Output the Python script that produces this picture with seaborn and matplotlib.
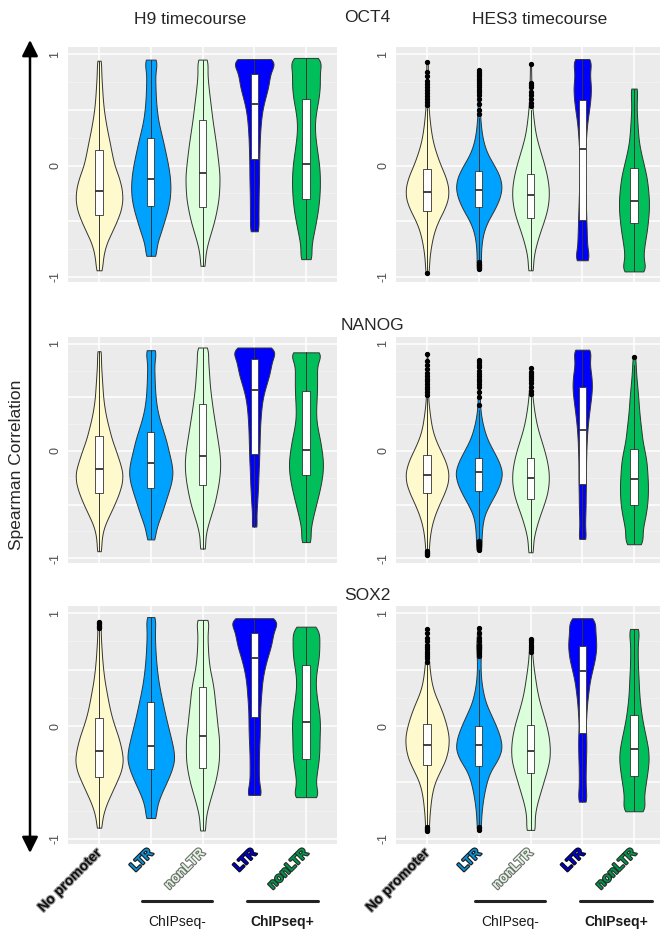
import numpy as np
import pandas as pd
import matplotlib
matplotlib.use('Agg')
import matplotlib.pyplot as plt
import matplotlib.patheffects as pe
from matplotlib.lines import Line2D
from matplotlib.patches import FancyArrowPatch
import seaborn as sns

sns.set_style('white')
plt.rcParams['font.family'] = ['Liberation Sans', 'DejaVu Sans']

GROUPS = ['none', 'LTR-', 'nonLTR-', 'LTR+', 'nonLTR+']
TICK_LABELS = ['No promoter', 'LTR', 'nonLTR', 'LTR', 'nonLTR']
FILLS = ['#FFFACD', '#00A2FF', '#DAFFDA', '#0000FF', '#00BE5A']
LABEL_COLORS = ['#111111', '#0A90D4', '#E2F8E2', '#0000D8', '#00964A']
LABEL_EDGES = ['#9A9A9A', '#1A1A1A', '#6E6E6E', '#0A0A0A', '#2A2A2A']

# density (relative half-width) at these correlation levels
LEVELS = [-0.9, -0.8, -0.7, -0.6, -0.5, -0.4, -0.3, -0.2, -0.1, 0.0,
          0.1, 0.2, 0.3, 0.4, 0.5, 0.6, 0.7, 0.8, 0.9]

# ---- H9 / OCT4
H9_OCT4_W = [
    [8, 13, 21, 37, 52, 65, 70, 67, 58, 45, 38, 32, 25, 19, 14, 11, 9, 7, 5],
    [0, 9, 18, 30, 40, 50, 57, 59, 57, 52, 45, 38, 30, 22, 18, 15, 14, 13, 13],
    [4, 8, 15, 25, 35, 42, 48, 50, 51, 48, 44, 40, 35, 30, 26, 22, 18, 15, 12],
    [0, 0, 0, 0, 15, 16, 16, 17, 18, 18, 19, 20, 22, 25, 30, 40, 52, 58, 58],
    [0, 12, 18, 25, 32, 38, 42, 44, 44, 42, 37, 32, 28, 28, 33, 40, 44, 44, 40],
]
# (min, weight at min, max, weight at max)
H9_OCT4_ENDS = [(-0.94, 4, 0.94, 3), (-0.81, 8, 0.95, 13), (-0.90, 3, 0.95, 10),
                (-0.59, 15, 0.955, 57), (-0.84, 12, 0.965, 35)]
# (q1, median, q3, lower whisker, upper whisker)
H9_OCT4_BOX = [(-0.44, -0.23, 0.135, -0.94, 0.94), (-0.36, -0.125, 0.25, -0.81, 0.95),
               (-0.375, -0.07, 0.405, -0.90, 0.95), (0.06, 0.55, 0.825, -0.59, 0.955),
               (-0.30, 0.01, 0.60, -0.84, 0.965)]
H9_OCT4_FLIERS = [[], [], [], [], []]

# ---- HES3 / OCT4
HES3_OCT4_W = [
    [5, 8, 13, 20, 32, 50, 63, 64, 55, 40, 28, 18, 12, 8, 5, 3, 3, 2, 2],
    [5, 6, 8, 13, 25, 45, 60, 68, 62, 45, 25, 14, 8, 5, 3, 4, 5, 5, 0],
    [5, 10, 18, 28, 40, 50, 55, 55, 50, 42, 32, 22, 14, 10, 6, 4, 3, 2, 1],
    [0, 14, 14, 13, 12, 11, 10, 9, 8, 8, 8, 10, 12, 15, 20, 24, 26, 22, 20],
    [25, 28, 32, 38, 42, 45, 45, 42, 38, 30, 22, 15, 12, 10, 8, 8, 0, 0, 0],
]
HES3_OCT4_ENDS = [(-0.96, 3, 0.93, 1), (-0.93, 3, 0.86, 3), (-0.94, 5, 0.91, 1),
                  (-0.85, 14, 0.955, 18), (-0.95, 25, 0.69, 10)]
HES3_OCT4_BOX = [(-0.41, -0.235, -0.035, -0.94, 0.52), (-0.37, -0.22, -0.045, -0.85, 0.43),
                 (-0.47, -0.265, -0.075, -0.94, 0.50), (-0.49, 0.15, 0.59, -0.85, 0.955),
                 (-0.52, -0.32, -0.025, -0.95, 0.69)]
HES3_OCT4_FLIERS = [
    [-0.96, 0.54, 0.57, 0.60, 0.62, 0.65, 0.68, 0.70, 0.73, 0.76, 0.80, 0.84, 0.93],
    [-0.93, -0.92, -0.91, -0.90, -0.89, -0.88, -0.87, 0.46, 0.50, 0.55, 0.60, 0.63,
     0.66, 0.68, 0.70, 0.72, 0.74, 0.76, 0.78, 0.80, 0.82, 0.84, 0.86],
    [0.53, 0.56, 0.60, 0.63, 0.66, 0.70, 0.72, 0.74, 0.91],
    [], [],
]

# ---- H9 / NANOG
H9_NANOG_W = [
    [5, 8, 15, 30, 45, 58, 68, 70, 60, 50, 38, 30, 22, 16, 12, 10, 8, 6, 4],
    [0, 8, 18, 30, 40, 50, 60, 65, 60, 52, 45, 35, 25, 18, 14, 12, 11, 10, 10],
    [5, 8, 15, 25, 35, 42, 48, 52, 53, 50, 45, 40, 35, 30, 26, 22, 20, 18, 14],
    [0, 0, 5, 7, 10, 12, 14, 15, 17, 18, 19, 20, 22, 25, 30, 40, 52, 60, 60],
    [0, 10, 15, 22, 30, 38, 45, 50, 51, 47, 42, 35, 30, 30, 32, 33, 33, 32, 30],
]
H9_NANOG_ENDS = [(-0.935, 3, 0.93, 3), (-0.825, 6, 0.94, 10), (-0.91, 4, 0.965, 12),
                 (-0.705, 5, 0.965, 57), (-0.85, 10, 0.92, 27)]
H9_NANOG_BOX = [(-0.39, -0.17, 0.14, -0.935, 0.93), (-0.35, -0.11, 0.18, -0.825, 0.94),
                (-0.32, -0.05, 0.435, -0.91, 0.965), (-0.03, 0.565, 0.86, -0.705, 0.965),
                (-0.22, 0.01, 0.555, -0.85, 0.92)]
H9_NANOG_FLIERS = [[], [], [], [], []]

# ---- HES3 / NANOG
HES3_NANOG_W = [
    [5, 8, 13, 22, 35, 50, 62, 64, 55, 40, 25, 15, 10, 6, 3, 3, 3, 2, 0],
    [5, 8, 10, 15, 30, 48, 62, 69, 58, 42, 25, 15, 8, 4, 3, 3, 3, 3, 0],
    [5, 10, 18, 28, 40, 50, 55, 55, 50, 42, 32, 22, 15, 10, 6, 4, 3, 0, 0],
    [0, 7, 8, 9, 10, 10, 11, 11, 11, 12, 13, 15, 18, 22, 26, 29, 27, 22, 18],
    [0, 22, 28, 35, 40, 42, 42, 40, 38, 32, 25, 22, 18, 15, 13, 10, 7, 5, 0],
]
HES3_NANOG_ENDS = [(-0.97, 3, 0.90, 1), (-0.92, 4, 0.85, 2), (-0.945, 5, 0.77, 2),
                   (-0.82, 6, 0.945, 17), (-0.87, 20, 0.88, 3)]
HES3_NANOG_BOX = [(-0.39, -0.22, -0.035, -0.91, 0.49), (-0.37, -0.20, -0.065, -0.82, 0.38),
                  (-0.45, -0.25, -0.065, -0.945, 0.50), (-0.31, 0.20, 0.60, -0.82, 0.945),
                  (-0.50, -0.26, 0.02, -0.87, 0.80)]
HES3_NANOG_FLIERS = [
    [-0.97, -0.96, -0.95, -0.94, -0.93, 0.52, 0.55, 0.58, 0.60, 0.62, 0.65, 0.67,
     0.70, 0.73, 0.76, 0.80, 0.84, 0.90],
    [-0.92, -0.91, -0.90, -0.89, -0.88, -0.87, -0.86, -0.84, 0.43, 0.50, 0.55, 0.60,
     0.62, 0.65, 0.67, 0.70, 0.72, 0.75, 0.78, 0.80, 0.83, 0.85],
    [0.53, 0.56, 0.60, 0.63, 0.66, 0.68, 0.70, 0.72, 0.74, 0.77],
    [], [0.88],
]

# ---- H9 / SOX2
H9_SOX2_W = [
    [4, 10, 20, 35, 50, 65, 71, 65, 57, 45, 35, 28, 22, 16, 12, 9, 7, 5, 3],
    [0, 9, 18, 30, 46, 60, 70, 66, 58, 50, 42, 35, 28, 22, 18, 15, 13, 12, 11],
    [5, 10, 18, 28, 38, 45, 50, 50, 50, 45, 42, 38, 35, 30, 22, 18, 16, 15, 13],
    [0, 0, 0, 15, 16, 16, 16, 17, 19, 20, 20, 22, 25, 28, 35, 45, 58, 66, 62],
    [0, 0, 0, 24, 28, 33, 38, 40, 40, 42, 40, 35, 30, 28, 32, 38, 40, 38, 0],
]
H9_SOX2_ENDS = [(-0.90, 3, 0.92, 3), (-0.815, 8, 0.965, 10), (-0.925, 5, 0.94, 12),
                (-0.61, 15, 0.955, 60), (-0.63, 23, 0.88, 27)]
H9_SOX2_BOX = [(-0.45, -0.225, 0.075, -0.90, 0.86), (-0.38, -0.175, 0.21, -0.815, 0.965),
               (-0.37, -0.085, 0.35, -0.925, 0.94), (0.08, 0.60, 0.825, -0.61, 0.955),
               (-0.29, 0.04, 0.54, -0.63, 0.88)]
H9_SOX2_FLIERS = [[0.87, 0.88, 0.89, 0.90, 0.91, 0.92], [], [], [], []]

# ---- HES3 / SOX2
HES3_SOX2_W = [
    [4, 7, 10, 14, 22, 38, 55, 63, 65, 58, 48, 35, 20, 12, 8, 5, 3, 3, 0],
    [4, 7, 10, 15, 22, 32, 55, 68, 62, 50, 35, 20, 12, 7, 5, 5, 8, 5, 0],
    [8, 12, 18, 28, 38, 48, 57, 58, 55, 48, 38, 28, 20, 15, 10, 6, 4, 0, 0],
    [0, 0, 0, 10, 10, 10, 11, 12, 12, 10, 12, 14, 18, 22, 30, 38, 42, 40, 32],
    [0, 0, 25, 30, 35, 40, 44, 42, 35, 28, 22, 18, 15, 14, 12, 11, 11, 11, 0],
]
HES3_SOX2_ENDS = [(-0.93, 3, 0.86, 1), (-0.92, 3, 0.87, 3), (-0.92, 8, 0.77, 2),
                  (-0.67, 10, 0.955, 23), (-0.755, 22, 0.86, 11)]
HES3_SOX2_BOX = [(-0.345, -0.17, 0.015, -0.88, 0.55), (-0.35, -0.17, 0.0, -0.87, 0.50),
                 (-0.42, -0.225, 0.01, -0.92, 0.65), (-0.06, 0.49, 0.705, -0.67, 0.955),
                 (-0.44, -0.20, 0.10, -0.755, 0.86)]
HES3_SOX2_FLIERS = [
    [-0.93, -0.92, -0.91, -0.90, -0.89, 0.57, 0.60, 0.62, 0.64, 0.66, 0.68, 0.70,
     0.72, 0.75, 0.78, 0.82, 0.86],
    [-0.92, -0.90, -0.89, 0.62, 0.64, 0.66, 0.68, 0.70, 0.72, 0.75, 0.78, 0.82, 0.87],
    [0.66, 0.68, 0.70, 0.72, 0.74, 0.76, 0.77],
    [], [],
]

PANELS = [
    [(H9_OCT4_W, H9_OCT4_ENDS, H9_OCT4_BOX, H9_OCT4_FLIERS),
     (HES3_OCT4_W, HES3_OCT4_ENDS, HES3_OCT4_BOX, HES3_OCT4_FLIERS)],
    [(H9_NANOG_W, H9_NANOG_ENDS, H9_NANOG_BOX, H9_NANOG_FLIERS),
     (HES3_NANOG_W, HES3_NANOG_ENDS, HES3_NANOG_BOX, HES3_NANOG_FLIERS)],
    [(H9_SOX2_W, H9_SOX2_ENDS, H9_SOX2_BOX, H9_SOX2_FLIERS),
     (HES3_SOX2_W, HES3_SOX2_ENDS, HES3_SOX2_BOX, HES3_SOX2_FLIERS)],
]

W, H = 660, 931
COL_LEFT = [68, 396]
COL_WIDTH = 269
ROW_TOP = [47, 337, 606]
ROW_BOTTOM = [282, 563, 844]
# a read-off half-width of 70 corresponds to a full violin width of 0.9
WIDTH_PER_UNIT = 0.9 / 70


def kde_bw(kde):
    # fixed bandwidth of ~0.065 correlation units
    return 0.065 / kde.dataset.std()


def draw_panel(ax, widths, ends, box, fliers, bottom_row):
    for i, (g, w, (lo, lo_w, hi, hi_w)) in enumerate(zip(GROUPS, widths, ends)):
        vals = np.repeat([lo] + LEVELS + [hi], [lo_w] + w + [hi_w])
        sub = pd.DataFrame({'group': g, 'rho': vals})
        sns.violinplot(data=sub, x='group', y='rho', order=GROUPS, color=FILLS[i],
                       saturation=1, cut=0, density_norm='width',
                       width=max(w + [lo_w, hi_w]) * WIDTH_PER_UNIT,
                       bw_method=kde_bw, inner=None, linewidth=0.7,
                       linecolor='#333333', ax=ax)
    stats = [dict(q1=b[0], med=b[1], q3=b[2], whislo=b[3], whishi=b[4], fliers=f)
             for b, f in zip(box, fliers)]
    ax.bxp(stats, positions=list(range(5)), widths=0.14, patch_artist=True,
           showcaps=False, manage_ticks=False, zorder=3,
           boxprops=dict(facecolor='white', edgecolor='#333333', linewidth=0.6),
           medianprops=dict(color='#333333', linewidth=1.3),
           whiskerprops=dict(color='#333333', linewidth=0.7),
           flierprops=dict(marker='o', markersize=2.8, markerfacecolor='black',
                           markeredgecolor='black', linestyle='none'))

    ax.set_facecolor('#EBEBEB')
    ax.set_xlim(-0.6, 4.6)
    ax.set_ylim(-1.045, 1.063)
    ax.set_xticks(range(5))
    ax.set_yticks([-1, -0.5, 0, 0.5, 1])
    ax.set_yticklabels(['-1', '', '0', '', '1'], rotation=90, va='center')
    ax.set_yticks([-0.75, -0.25, 0.25, 0.75], minor=True)
    ax.grid(which='major', color='white', linewidth=1.1)
    ax.grid(which='minor', axis='y', color='#F4F4F4', linewidth=0.5)
    ax.set_axisbelow(True)
    for s in ax.spines.values():
        s.set_visible(False)
    ax.tick_params(which='minor', length=0)
    ax.tick_params(which='major', length=3, width=0.6, color='#333333',
                   labelsize=9, labelcolor='#4D4D4D', pad=2)
    ax.set_xlabel('')
    ax.set_ylabel('')
    if bottom_row:
        ax.set_xticklabels(TICK_LABELS, rotation=45, ha='right', va='center',
                           rotation_mode='anchor', fontsize=10, fontweight='bold')
        for t, c, e in zip(ax.get_xticklabels(), LABEL_COLORS, LABEL_EDGES):
            t.set_color(c)
            t.set_path_effects([pe.withStroke(linewidth=1.6, foreground=e)])
    else:
        ax.set_xticklabels([])


fig = plt.figure(figsize=(W / 100, H / 100), dpi=100)

for r in range(3):
    for c in range(2):
        rect = [COL_LEFT[c] / W, 1 - ROW_BOTTOM[r] / H,
                COL_WIDTH / W, (ROW_BOTTOM[r] - ROW_TOP[r]) / H]
        ax = fig.add_axes(rect)
        draw_panel(ax, *PANELS[r][c], bottom_row=(r == 2))


def fx(px):
    return px / W


def fy(py):
    return 1 - py / H


fig.text(fx(190), fy(20), 'H9 timecourse', ha='center', va='center', fontsize=12.5)
fig.text(fx(540), fy(20), 'HES3 timecourse', ha='center', va='center', fontsize=12.5)
fig.text(fx(367), fy(18), 'OCT4', ha='center', va='center', fontsize=12.5)
fig.text(fx(372), fy(325), 'NANOG', ha='center', va='center', fontsize=12.5)
fig.text(fx(367), fy(595), 'SOX2', ha='center', va='center', fontsize=12.5)
fig.text(fx(17), fy(465), 'Spearman Correlation', ha='center', va='center',
         rotation=90, fontsize=12.5)

arrow = FancyArrowPatch((fx(30), fy(40)), (fx(30), fy(853)), transform=fig.transFigure,
                        arrowstyle='<|-|>,head_length=0.4,head_width=0.2',
                        mutation_scale=24, linewidth=1.8, color='black',
                        shrinkA=0, shrinkB=0)
fig.add_artist(arrow)

# group brackets under the tick labels
for x0, x1, label, weight in [(142, 212, 'ChIPseq-', 'normal'), (247, 318, 'ChIPseq+', 'bold'),
                              (475, 545, 'ChIPseq-', 'normal'), (580, 652, 'ChIPseq+', 'bold')]:
    fig.add_artist(Line2D([fx(x0), fx(x1)], [fy(901), fy(901)], color='#222222',
                          linewidth=2.2, transform=fig.transFigure))
    fig.text(fx((x0 + x1) / 2), fy(922), label, ha='center', va='center',
             fontsize=10, fontweight=weight, color='#1A1A1A')

fig.savefig('out.png', dpi=100)
